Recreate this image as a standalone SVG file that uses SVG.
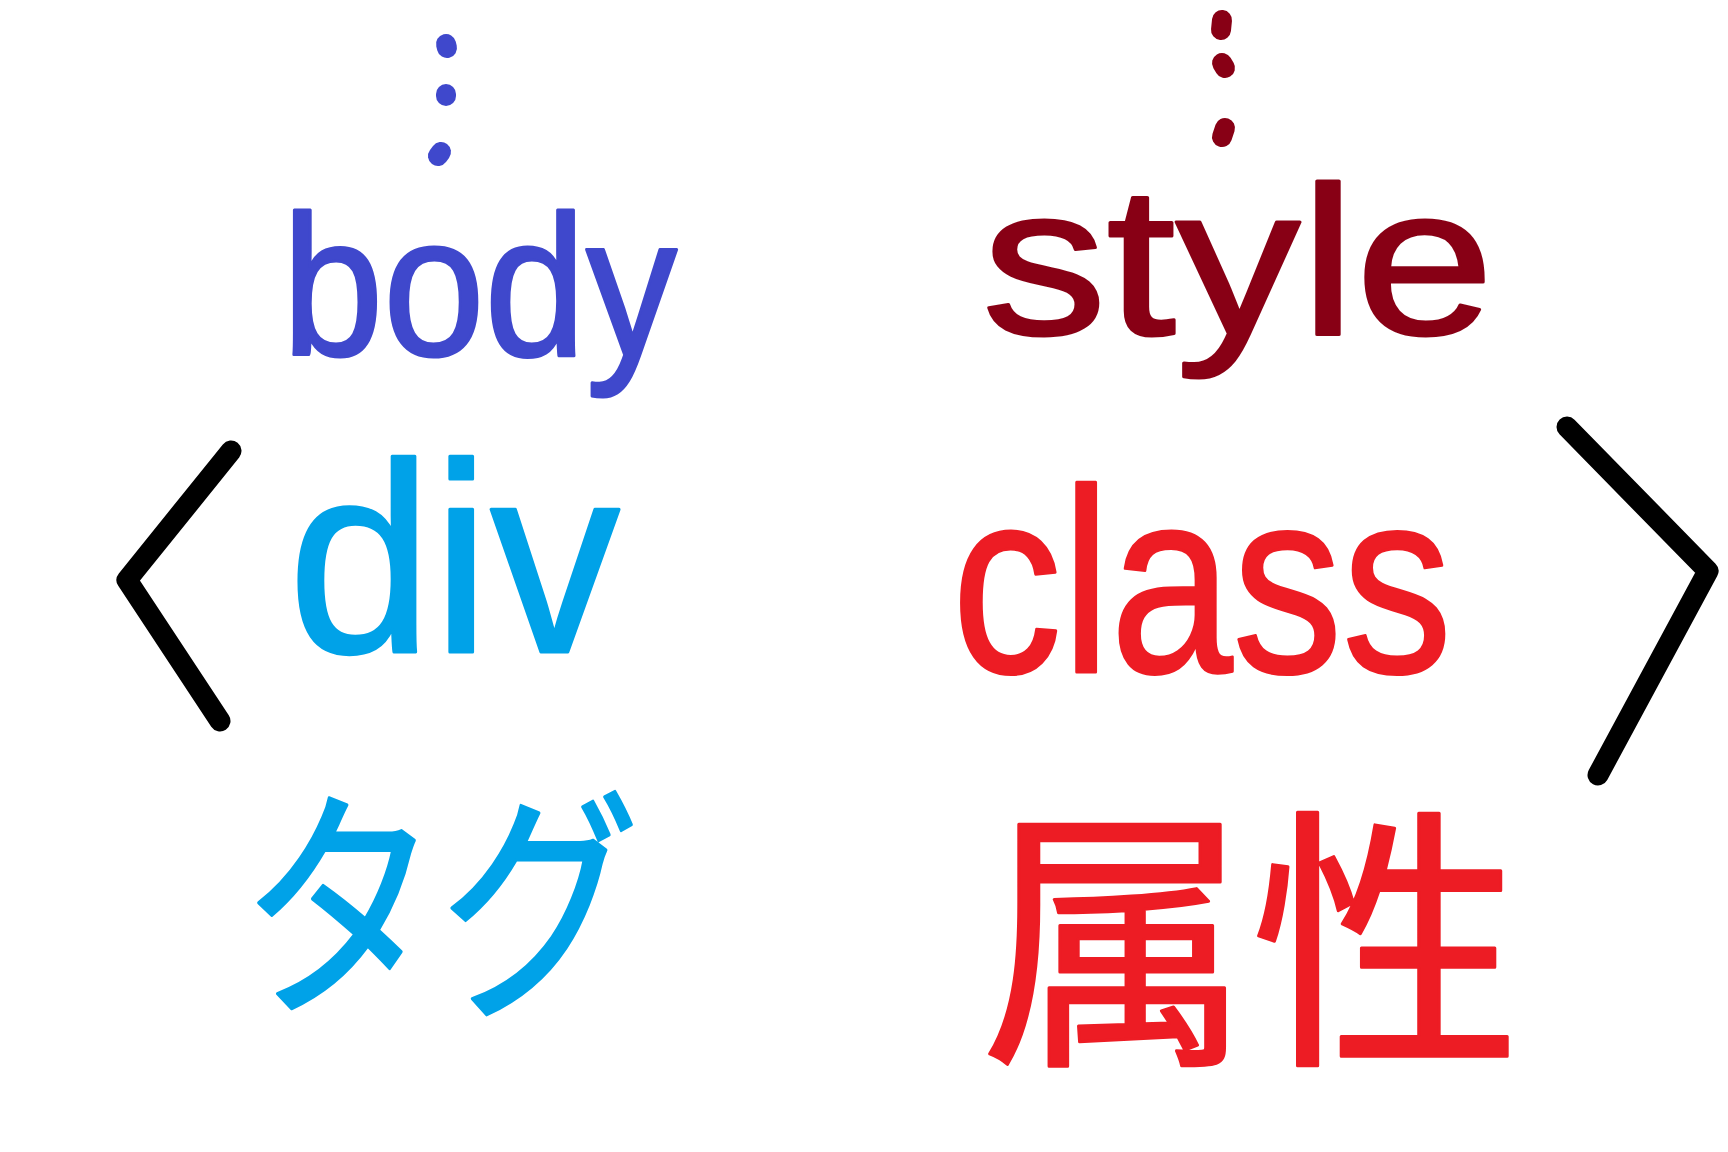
<svg xmlns="http://www.w3.org/2000/svg" width="1728" height="1152" viewBox="0 0 1728 1152">
<style>
.t{font-family:"Liberation Sans",Arial,sans-serif;stroke-linejoin:round;stroke-width:3}
.j{font-family:"Noto Sans CJK JP","Noto Sans",sans-serif;stroke-linejoin:round;stroke-width:3}
.br{fill:none;stroke:#000;stroke-width:21;stroke-linecap:round;stroke-linejoin:round}
.dot{fill:none;stroke-width:20;stroke-linecap:round}
.indigo{fill:#3F48CC;stroke:#3F48CC}
.cyan{fill:#00A2E8;stroke:#00A2E8}
.maroon{fill:#880015;stroke:#880015}
.red{fill:#ED1C24;stroke:#ED1C24}
</style>
<rect width="1728" height="1152" fill="#fff"/>
<g id="bracket-left"><polyline class="br" points="231,451 127,580 220,721"/></g>
<g id="bracket-right"><polyline class="br" points="1567,427 1708,571 1598,775"/></g>
<g id="dots-left">
<line class="dot" stroke="#3F48CC" x1="446" y1="44" x2="447" y2="48"/>
<line class="dot" stroke="#3F48CC" x1="446" y1="94" x2="446" y2="96"/>
<line class="dot" stroke="#3F48CC" x1="441" y1="152" x2="438" y2="156"/>
</g>
<g id="dots-right">
<line class="dot" stroke="#880015" x1="1222" y1="20" x2="1221" y2="30"/>
<line class="dot" stroke="#880015" x1="1222" y1="63" x2="1225" y2="68"/>
<line class="dot" stroke="#880015" x1="1225" y1="128" x2="1222" y2="137"/>
</g>
<g id="body"><text class="t indigo" x="282" y="355" font-size="200" textLength="395" lengthAdjust="spacingAndGlyphs">body</text></g>
<g id="div"><text class="t cyan" x="288" y="652" font-size="270" textLength="332" lengthAdjust="spacingAndGlyphs">div</text></g>
<g id="tag"><text class="j cyan" x="240" y="998" font-size="245" textLength="400" lengthAdjust="spacingAndGlyphs">タグ</text></g>
<g id="style"><text class="t maroon" x="982" y="334" font-size="212" textLength="512" lengthAdjust="spacingAndGlyphs">style</text></g>
<g id="class"><text class="t red" x="952" y="672" font-size="262" textLength="500" lengthAdjust="spacingAndGlyphs">class</text></g>
<g id="zokusei"><text class="j red" x="981" y="1044" font-size="276" textLength="540" lengthAdjust="spacingAndGlyphs">属性</text></g>
</svg>
